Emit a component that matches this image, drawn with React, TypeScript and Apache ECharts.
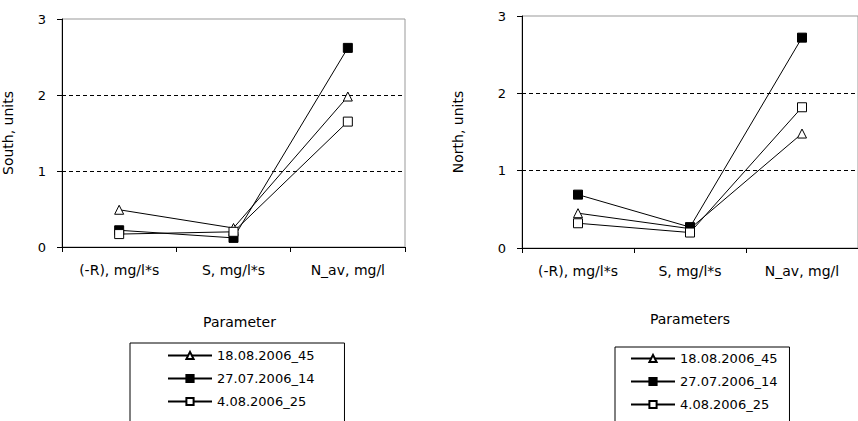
import React, { useEffect, useRef } from "react";
import * as echarts from "echarts";

const categories = ["(-R), mg/l*s", "S, mg/l*s", "N_av, mg/l"];
const seriesNames = ["18.08.2006_45", "27.07.2006_14", "4.08.2006_25"];
const southTri = [0.49, 0.25, 1.98];
const southFilled = [0.22, 0.12, 2.62];
const southOpen = [0.17, 0.2, 1.65];
const northTri = [0.45, 0.25, 1.48];
const northFilled = [0.69, 0.27, 2.72];
const northOpen = [0.32, 0.2, 1.82];
const yTicks = [0, 1, 2, 3];

const FONT = "DejaVu Sans";

export default function App() {
  const ref = useRef<HTMLDivElement>(null);
  useEffect(() => {
    if (!ref.current) return;
    const chart = echarts.init(ref.current, undefined, { renderer: "svg" });
    const symbols = [
      { symbol: "triangle", color: "#fff" },
      { symbol: "rect", color: "#000" },
      { symbol: "rect", color: "#fff" },
    ];
    const mkSeries = (data: number[], idx: number, axisIdx: number) => ({
      name: seriesNames[idx],
      type: "line",
      xAxisIndex: axisIdx,
      yAxisIndex: axisIdx,
      data,
      symbol: symbols[idx].symbol,
      symbolSize: 9,
      showSymbol: true,
      lineStyle: { color: "#000", width: 1 },
      itemStyle: { color: symbols[idx].color, borderColor: "#000", borderWidth: 1 },
      emphasis: { disabled: true },
      z: 3,
    });
    const xAxis = (gridIndex: number, name: string, pad: number[], gap: number) => ({
      type: "category",
      gridIndex,
      data: categories,
      boundaryGap: true,
      name,
      nameLocation: "middle",
      nameGap: gap,
      nameTextStyle: { color: "#000", fontFamily: FONT, fontSize: 14, padding: pad },
      axisLine: { show: true, lineStyle: { color: "#000", width: 1 } },
      axisTick: { show: true, length: 5, lineStyle: { color: "#000" } },
      axisLabel: { color: "#000", fontFamily: FONT, fontSize: 14, margin: 16 },
      splitLine: { show: false },
    });
    const yAxis = (gridIndex: number, name: string, pad: number[]) => ({
      type: "value",
      gridIndex,
      min: yTicks[0],
      max: yTicks[yTicks.length - 1],
      interval: 1,
      name,
      nameLocation: "middle",
      nameGap: 37,
      nameTextStyle: { color: "#000", fontFamily: FONT, fontSize: 14, padding: pad },
      axisLine: { show: true, lineStyle: { color: "#000", width: 1 } },
      axisTick: { show: true, length: 5, lineStyle: { color: "#000" } },
      axisLabel: { color: "#000", fontFamily: FONT, fontSize: 13, margin: 16 },
      splitLine: {
        show: true,
        lineStyle: { color: ["transparent", "#000", "#000", "transparent"], type: [4, 3], width: 1 },
      },
    });
    const legend = (left: number, top: number, padding: number[]) => ({
      orient: "horizontal",
      left,
      top,
      width: 150,
      data: seriesNames,
      itemWidth: 44,
      itemHeight: 9,
      itemGap: 10,
      padding,
      borderColor: "#000",
      borderWidth: 1,
      backgroundColor: "#fff",
      textStyle: { color: "#000", fontFamily: FONT, fontSize: 13, lineHeight: 10 },
      selectedMode: false,
    });
    chart.setOption({
      animation: false,
      backgroundColor: "#fff",
      textStyle: { fontFamily: FONT },
      grid: [
        { left: 62, top: 19, width: 343, height: 228, show: true, borderColor: "#999", borderWidth: 1, backgroundColor: "transparent" },
        { left: 522, top: 16, width: 345, height: 232, show: true, borderColor: "#999", borderWidth: 1, backgroundColor: "transparent" },
      ],
      xAxis: [xAxis(0, "Parameter", [0, 0, 0, 12], 68), xAxis(1, "Parameters", [0, 0, 0, 0], 64)],
      yAxis: [yAxis(0, "South, units", [0, 0, 10, 0]), yAxis(1, "North, units", [0, 0, 20, 0])],
      legend: [legend(130, 343, [6, 30, 20, 37]), legend(615, 347, [5, 12, 20, 15])],
      series: [
        mkSeries(southTri, 0, 0),
        mkSeries(southFilled, 1, 0),
        mkSeries(southOpen, 2, 0),
        mkSeries(northTri, 0, 1),
        mkSeries(northFilled, 1, 1),
        mkSeries(northOpen, 2, 1),
      ],
    });
    return () => chart.dispose();
  }, []);
  return (
    <div
      ref={ref}
      style={{ position: "absolute", left: 0, top: 0, width: 858, height: 421 }}
    />
  );
}
